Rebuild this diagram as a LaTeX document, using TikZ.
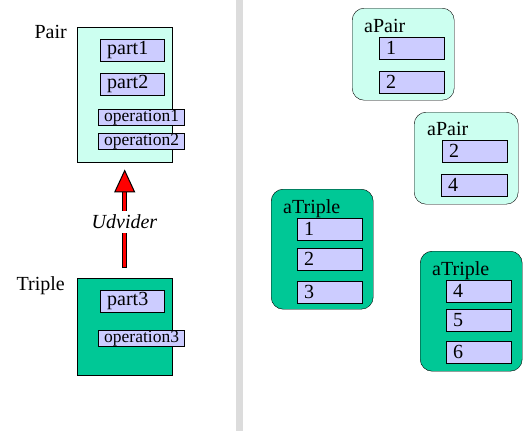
\documentclass[tikz,border=0pt]{standalone}
\usepackage{fontspec}
\setmainfont{LiberationSerif}[Extension=.ttf, UprightFont=*-Regular,
  BoldFont=*-Bold, ItalicFont=*-Italic, BoldItalicFont=*-BoldItalic]
\usetikzlibrary{arrows.meta, positioning}
\definecolor{pairCyan}{HTML}{CCFFF0}
\definecolor{tripleGreen}{HTML}{00C896}
\definecolor{fieldBlue}{HTML}{CCCCFF}
\definecolor{sepGray}{HTML}{DCDCDC}
\newcommand{\bigfont}{\fontsize{20}{24}\selectfont}
\newcommand{\opfont}{\fontsize{17.5}{20}\selectfont}
\tikzset{
  classbox/.style={draw, anchor=north west, inner sep=0pt},
  objbox/.style={draw, rounded corners=12pt, anchor=north west, inner sep=0pt},
  field/.style={draw, fill=fieldBlue, anchor=north west, inner xsep=7pt,
                inner ysep=0pt, minimum height=22pt, text width=#1, align=left},
  opfield/.style={field=74pt, inner xsep=6pt, minimum height=16pt, font=\opfont},
  tag/.style={anchor=base west, inner sep=0pt},
  shaftB/.style={black, line width=5pt},
  shaftR/.style={red, line width=3pt,
                 -{Triangle[length=23pt, width=21pt, color=black, fill=red, line width=1pt]}},
}

\begin{document}
\begin{tikzpicture}[x=1pt, y=-1pt, font=\bigfont]
    \useasboundingbox (0,0) rectangle (524,431);
    % separator
    \fill[sepGray] (236,0) rectangle (243,431);

    % classes
    \node[classbox, fill=pairCyan, minimum width=95pt, minimum height=135pt] (pair) at (77,27) {};
    \node[anchor=base east, inner sep=0pt] (pairname) at (67,38) {Pair};
    \node[field=50pt] (part1) at (100,39) {part1};
    \node[field=50pt] (part2) at (100,73) {part2};
    \node[opfield] (op1) at (98,109) {operation1};
    \node[opfield] (op2) at (98,133) {operation2};

    \node[classbox, fill=tripleGreen, minimum width=95pt, minimum height=97pt] (triple) at (77,278) {};
    \node[anchor=base east, inner sep=0pt] (triplename) at (65,290) {Triple};
    \node[field=50pt] (part3) at (100,290) {part3};
    \node[opfield] (op3) at (98,330) {operation3};

    \draw[shaftB, shorten <=10pt, shorten >=28pt] (triple.north) -- (pair.south);
    \draw[shaftR, shorten <=11pt, shorten >=7pt] (triple.north) -- (pair.south);
    \node[fill=white, inner xsep=2pt, inner ysep=4pt] (udv) at (124.5,222) {\itshape Udvider};

    % objects
    \node[objbox, fill=pairCyan, minimum width=102pt, minimum height=92pt] (p1) at (352,8) {};
    \node[tag] (p1name) at (364,32) {aPair};
    \node[field=51pt] (p1a) at (379,37) {1};
    \node[field=51pt] (p1b) at (379,71) {2};

    \node[objbox, fill=pairCyan, minimum width=104pt, minimum height=92pt] (p2) at (414,112) {};
    \node[tag] (p2name) at (427,135) {aPair};
    \node[field=51pt] (p2a) at (442,140) {2};
    \node[field=52pt] (p2b) at (441,174) {4};

    \node[objbox, fill=tripleGreen, minimum width=102pt, minimum height=120pt] (t1) at (271,189) {};
    \node[tag] (t1name) at (283,213) {aTriple};
    \node[field=51pt] (t1a) at (297,218) {1};
    \node[field=51pt] (t1b) at (297,248) {2};
    \node[field=51pt] (t1c) at (297,281) {3};

    \node[objbox, fill=tripleGreen, minimum width=102pt, minimum height=120pt] (t2) at (420,251) {};
    \node[tag] (t2name) at (432,275) {aTriple};
    \node[field=51pt] (t2a) at (446,280) {4};
    \node[field=51pt] (t2b) at (446,309) {5};
    \node[field=51pt] (t2c) at (446,341) {6};
\end{tikzpicture}
\end{document}
